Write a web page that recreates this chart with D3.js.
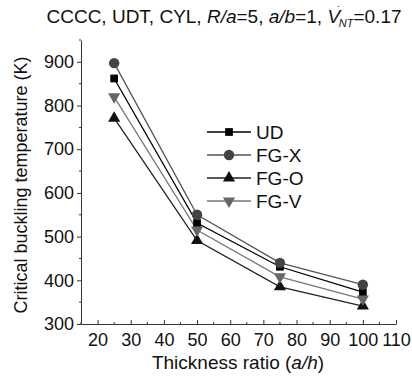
<!DOCTYPE html>
<html>
<head>
<meta charset="utf-8">
<script src="https://cdn.jsdelivr.net/npm/d3@7"></script>
<style>
  body { margin: 0; background: #fff; }
  svg { font-family: "Liberation Sans", Arial, sans-serif; }
</style>
</head>
<body>
<script>
const thickness = [25, 50, 75, 100];
const seriesNames = ['UD', 'FG-X', 'FG-O', 'FG-V'];
const udValues = [862, 531, 431, 373];
const fgxValues = [897, 550, 440, 390];
const fgoValues = [771, 491, 385, 341];
const fgvValues = [820, 515, 408, 357];
const xTicks = [20, 30, 40, 50, 60, 70, 80, 90, 100, 110];
const yTicks = [300, 400, 500, 600, 700, 800, 900];

const series = [
  {name: 'UD', values: udValues, line: '#000', fill: '#000', shape: d3.symbolSquare},
  {name: 'FG-X', values: fgxValues, line: '#555', fill: '#444', shape: d3.symbolCircle},
  {name: 'FG-O', values: fgoValues, line: '#222', fill: '#111', shape: d3.symbolTriangle},
  {name: 'FG-V', values: fgvValues, line: '#777', fill: '#666', shape: 'down'}
];

const W = 412, H = 380;
const margin = {top: 40, right: 16, bottom: 56, left: 81};

const svg = d3.select('body').append('svg')
  .attr('width', W)
  .attr('height', H);

const x = d3.scaleLinear().domain([15, 110]).range([margin.left, W - margin.right]);
const y = d3.scaleLinear().domain([300, 950]).range([H - margin.bottom, margin.top]);

// axes
const xAxis = d3.axisBottom(x).tickValues(xTicks).tickSizeInner(-4).tickSizeOuter(0).tickPadding(10);
const yAxis = d3.axisLeft(y).tickValues(yTicks).tickSizeInner(4).tickSizeOuter(0).tickPadding(3);

const gx = svg.append('g').attr('transform', `translate(0,${y(300)})`).call(xAxis);
const gy = svg.append('g').attr('transform', `translate(${x(15)},0)`).call(yAxis);

[gx, gy].forEach(g => {
  g.selectAll('text').style('font-size', '18px').attr('fill', '#111');
  g.selectAll('line, path').attr('stroke', '#333');
});
gx.selectAll('text').attr('dy', '0.65em');

// minor ticks
svg.append('g').selectAll('line')
  .data(d3.range(15, 110, 10))
  .join('line')
  .attr('x1', d => x(d)).attr('x2', d => x(d))
  .attr('y1', y(300)).attr('y2', y(300) - 2)
  .attr('stroke', '#333');
svg.append('g').selectAll('line')
  .data(d3.range(350, 951, 100))
  .join('line')
  .attr('x1', x(15)).attr('x2', x(15) - 2)
  .attr('y1', d => y(d)).attr('y2', d => y(d))
  .attr('stroke', '#333');

// lines + markers
const line = d3.line().x((d, i) => x(thickness[i])).y(d => y(d));

function symbolPath(shape, size) {
  if (shape === 'down') {
    return d3.symbol(d3.symbolTriangle, size)();
  }
  return d3.symbol(shape, size)();
}
const sizes = {'UD': 60, 'FG-X': 85, 'FG-O': 64, 'FG-V': 64};

series.forEach(s => {
  svg.append('path')
    .datum(s.values)
    .attr('d', line)
    .attr('fill', 'none')
    .attr('stroke', s.line)
    .attr('stroke-width', 1.3);
});
series.forEach(s => {
  svg.append('g').selectAll('path')
    .data(s.values)
    .join('path')
    .attr('d', symbolPath(s.shape, sizes[s.name]))
    .attr('transform', (d, i) => `translate(${x(thickness[i])},${y(d)})${s.shape === 'down' ? ' rotate(180)' : ''}`)
    .attr('fill', s.fill);
});

// legend
const legend = svg.append('g').attr('transform', 'translate(207,132)');
series.forEach((s, i) => {
  const g = legend.append('g').attr('transform', `translate(0,${i * 23})`);
  g.append('line').attr('x1', 0).attr('x2', 44).attr('y1', 0).attr('y2', 0)
    .attr('stroke', s.line).attr('stroke-width', 1.3);
  g.append('path')
    .attr('d', symbolPath(s.shape, sizes[s.name]))
    .attr('transform', `translate(22,0)${s.shape === 'down' ? ' rotate(180)' : ''}`)
    .attr('fill', s.fill);
  g.append('text').attr('x', 49).attr('y', 0).attr('dy', '0.36em')
    .style('font-size', '19px').attr('fill', '#111').text(s.name);
});

// title
const title = svg.append('text')
  .attr('x', 224).attr('y', 23)
  .attr('text-anchor', 'middle')
  .style('font-size', '19px').attr('fill', '#111');
title.append('tspan').text('CCCC, UDT, CYL, ');
title.append('tspan').style('font-style', 'italic').text('R/a');
title.append('tspan').text('=5, ');
title.append('tspan').style('font-style', 'italic').text('a/b');
title.append('tspan').text('=1, ');
title.append('tspan').style('font-style', 'italic').text('V');
title.append('tspan').attr('dx', -3).attr('dy', -9).style('font-size', '11px').text('˙');
title.append('tspan').attr('dx', -2).attr('dy', 13).style('font-size', '11px').style('font-style', 'italic').text('NT');
title.append('tspan').attr('dy', -4).text('=0.17');

// axis titles
const xt = svg.append('text')
  .attr('x', 238).attr('y', 369)
  .attr('text-anchor', 'middle')
  .style('font-size', '19px').attr('fill', '#111');
xt.append('tspan').text('Thickness ratio (');
xt.append('tspan').style('font-style', 'italic').text('a/h');
xt.append('tspan').text(')');

svg.append('text')
  .attr('transform', 'translate(27,185) rotate(-90)')
  .attr('text-anchor', 'middle')
  .style('font-size', '18px').attr('fill', '#111')
  .text('Critical buckling temperature (K)');
</script>
</body>
</html>
